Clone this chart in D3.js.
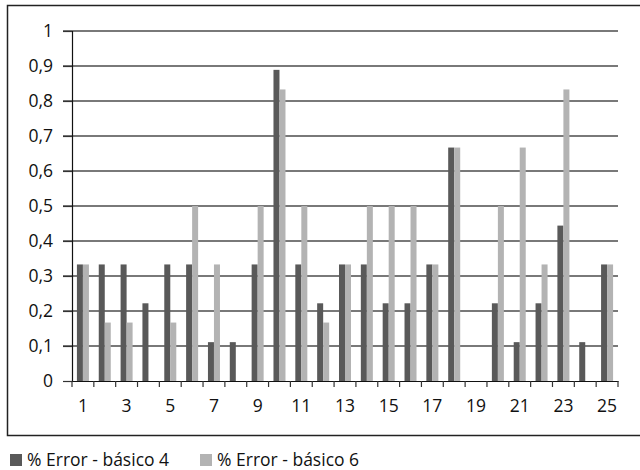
<!DOCTYPE html>
<html><head><meta charset="utf-8">
<script src="https://cdn.jsdelivr.net/npm/d3@7"></script>
<style>body{margin:0;background:#fff}svg{display:block}text{font-family:"Open Sans",Lato,sans-serif;fill:#111}</style>
</head><body><svg id="c" width="640" height="470"></svg>
<script>
const categories = d3.range(1, 26).map(String);
const seriesNames = ["% Error - básico 4", "% Error - básico 6"];
const basico4 = [0.333,0.333,0.333,0.222,0.333,0.333,0.111,0.111,0.333,0.889,0.333,0.222,0.333,0.333,0.222,0.222,0.333,0.667,0,0.222,0.111,0.222,0.444,0.111,0.333];
const basico6 = [0.333,0.167,0.167,0,0.167,0.5,0.333,0,0.5,0.833,0.5,0.167,0.333,0.5,0.5,0.5,0.333,0.667,0,0.5,0.667,0.333,0.833,0,0.333];
const yTicks = [0,0.1,0.2,0.3,0.4,0.5,0.6,0.7,0.8,0.9,1];
const colors = ["#595959", "#b3b3b3"];
const FS = "17.5px";

const svg = d3.select("#c");
svg.append("rect").attr("x",7.5).attr("y",5.5).attr("width",640).attr("height",430)
  .attr("fill","none").attr("stroke","#222").attr("stroke-width",1.5);

const L = 72, R = 618, T = 31, B = 381;
const x = d3.scaleBand().domain(categories).range([L, R]).paddingInner(0.45).paddingOuter(0.225);
const xOuter = d3.scaleBand().domain(categories).range([L, R]);
const x1 = d3.scaleBand().domain([0,1]).range([0, x.bandwidth()]);
const y = d3.scaleLinear().domain([0,1]).range([B, T]);

// gridlines
svg.append("g").selectAll("line").data(yTicks.filter(d=>d>0)).join("line")
  .attr("x1", L-9).attr("x2", R).attr("y1", d=>y(d)).attr("y2", d=>y(d))
  .attr("stroke","#4d4d4d").attr("stroke-width",1.6);

// y axis
const fmt = d => d3.format(".1~f")(d).replace(".", ",");
const ya = svg.append("g").attr("transform",`translate(${L},0)`)
  .call(d3.axisLeft(y).tickValues(yTicks).tickFormat(fmt).tickSize(9).tickPadding(10));
ya.select(".domain").attr("stroke","#111").attr("stroke-width",1.2);
ya.selectAll(".tick line").attr("stroke","#333").attr("stroke-width",1.2);
ya.selectAll("text").style("font-size",FS).attr("fill","#111");

// bars
const series = [basico4, basico6];
series.forEach((s, i) => {
  svg.append("g").selectAll("rect").data(s).join("rect")
    .attr("x", (d, j) => x(categories[j]) + x1(i))
    .attr("width", x1.bandwidth())
    .attr("y", d => y(d))
    .attr("height", d => B - y(d))
    .attr("fill", colors[i]);
});

// x axis
const xa = svg.append("g").attr("transform",`translate(0,${B})`)
  .call(d3.axisBottom(xOuter).tickSize(0).tickPadding(19).tickFormat((d,i)=> i%2===0 ? d : ""));
xa.select(".domain").attr("stroke","#111").attr("stroke-width",1.2);
xa.selectAll("text").style("font-size",FS).attr("fill","#111");
// ticks between categories
const bounds = d3.range(0, 26).map(i => L + i * xOuter.step());
svg.append("g").selectAll("line").data(bounds).join("line")
  .attr("x1", d=>d).attr("x2", d=>d).attr("y1", B).attr("y2", B+6)
  .attr("stroke","#333").attr("stroke-width",1.2);

// legend
const leg = [{x:10, n:seriesNames[0], c:colors[0]}, {x:200, n:seriesNames[1], c:colors[1]}];
leg.forEach(l => {
  svg.append("rect").attr("x", l.x).attr("y", 454).attr("width", 12).attr("height", 12).attr("fill", l.c);
  svg.append("text").attr("x", l.x + 17).attr("y", 466).style("font-size",FS).text(l.n);
});
</script></body></html>
